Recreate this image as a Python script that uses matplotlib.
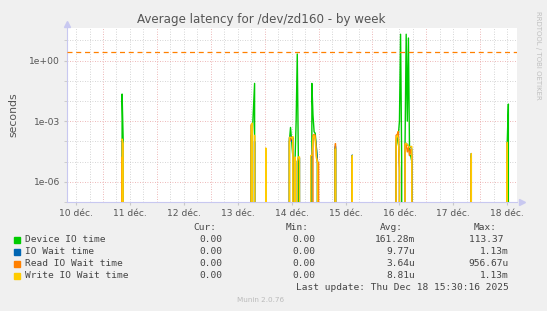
import numpy as np
import matplotlib
matplotlib.use("Agg")
import matplotlib.pyplot as plt
from matplotlib.ticker import FixedLocator, NullFormatter

# Données : demi-heures depuis le 10 déc. 00:00, seules les pointes non nulles
slots = [65, 66, 180, 181, 182, 183, 193, 214, 215, 216, 217, 219, 220, 221, 222, 223,
         233, 234, 235, 236, 237, 238, 239, 240, 255, 270, 309, 310, 311, 312, 313, 314,
         317, 318, 319, 320, 321, 322, 323, 376, 408, 409]
device_io = [2.2e-2, 1.0e-4, 2e-4, 2.6e-4, 5e-3, 7.4e-2, 4e-5, 1e-4, 4.9e-4, 1e-4, 2e-5, 1e-5, 1e-3, 2.1, 1e-5, 0,
             0, 7.4e-2, 2e-3, 3e-4, 2.5e-4, 5e-5, 1e-5, 0, 5e-5, 2e-5, 5e-5, 1e-4, 2e-4, 1e-3, 20, 1e-5,
             1e-4, 20, 1e-3, 13, 2e-5, 2e-5, 1e-5, 2e-5, 9.6e-5, 7e-3]
io_wait = [1.2e-4, 7e-5, 6e-4, 7e-4, 0, 1e-4, 4e-5, 1.5e-4, 1.8e-4, 1e-4, 1.5e-4, 1.5e-5, 0, 1e-5, 1.5e-5, 1.5e-5,
           1.5e-5, 2e-5, 1.5e-4, 2e-4, 1.5e-4, 5e-5, 1e-5, 0, 6e-5, 2.1e-5, 1e-4, 2e-4, 2.5e-4, 5e-6, 0, 0,
           8e-5, 8e-5, 7e-5, 6e-5, 5e-5, 5.6e-5, 4e-5, 2.5e-5, 9e-5, 0]
read_wait = [1.7e-5, 0, 7e-4, 7e-4, 0, 0, 3e-5, 1e-4, 1.2e-4, 1.5e-4, 1.7e-4, 1e-5, 0, 0, 0, 0,
             0, 0, 2e-4, 2.2e-4, 2e-4, 2e-5, 9e-6, 9e-6, 7.8e-5, 1.5e-5, 2e-4, 2.2e-4, 3.1e-4, 3e-6, 0, 0,
             7e-5, 7e-5, 3e-5, 5e-5, 2e-5, 4e-5, 2e-5, 1.5e-5, 1e-5, 0]
write_wait = [1.3e-4, 8e-5, 6e-4, 8e-4, 0, 2e-4, 4.7e-5, 1.6e-4, 1.6e-4, 1.5e-4, 1.7e-4, 1.7e-5, 0, 1e-5, 1.7e-5, 1.7e-5,
              2e-5, 2e-5, 1.5e-4, 2e-4, 1.2e-4, 1.5e-5, 1e-5, 0, 4.2e-5, 2e-5, 1.5e-4, 2e-4, 1.5e-4, 1e-5, 0, 0,
              8e-5, 8e-5, 7e-5, 6e-5, 5e-5, 5.6e-5, 5.6e-5, 2.5e-5, 9e-5, 0]

day_labels = ["10 déc.", "11 déc.", "12 déc.", "13 déc.", "14 déc.", "15 déc.", "16 déc.", "17 déc.", "18 déc."]
warn_level = 2.7

names = ["Device IO time", "IO Wait time", "Read IO Wait time", "Write IO Wait time"]
colors = ["#00CC00", "#0066B3", "#FF8000", "#FFCC00"]
cur = ["0.00", "0.00", "0.00", "0.00"]
mins = ["0.00", "0.00", "0.00", "0.00"]
avgs = ["161.28m", "9.77u", "3.64u", "8.81u"]
maxs = ["113.37 ", "1.13m", "956.67u", "1.13m"]

W, H = 547, 311


def px(x, y):
    return x / W, 1 - y / H


# séries complètes (zéro hors des pointes)
t = np.arange(16, 417)
days = t / 48.0
series = []
for vals in [device_io, io_wait, read_wait, write_wait]:
    full = np.zeros(len(t))
    full[np.array(slots) - 16] = vals
    series.append(full)

fig = plt.figure(figsize=(W / 100, H / 100), dpi=100, facecolor="#F0F0F0")
ax = fig.add_axes([67 / W, 1 - 202 / H, 450 / W, 174 / H])
ax.set_facecolor("white")

for s, c in zip(series, colors):
    ax.plot(days, s, color=c, lw=1.0, zorder=3)

ax.axhline(warn_level, color="#FF8000", lw=0.9, dashes=(4, 3), zorder=4)

ax.set_yscale("log", nonpositive="clip")
ax.set_ylim(1e-7, 10 ** 1.61)
ax.set_xlim(0.332, 8.681)

# grille
for d in np.arange(0.5, 8.75, 0.25):
    if abs(d - round(d)) < 1e-9:
        ax.axvline(d, color="#E8A0A0", lw=0.6, ls=(0, (1, 2)), zorder=1)
    else:
        ax.axvline(d, color="#C8C8C8", lw=0.6, ls=(0, (1, 2)), zorder=1)
for e in range(-7, 2):
    col = "#E8A0A0" if e in (0, -3, -6) else "#C8C8C8"
    ax.axhline(10.0 ** e, color=col, lw=0.6, ls=(0, (1, 2)), zorder=1)

ax.yaxis.set_major_locator(FixedLocator([1e0, 1e-3, 1e-6]))
ax.yaxis.set_minor_locator(FixedLocator([10.0 ** e for e in range(-7, 2)]))
ax.yaxis.set_minor_formatter(NullFormatter())
ax.set_yticklabels(["1e+00", "1e-03", "1e-06"])
ax.set_xticks(np.arange(0.5, 9, 1.0))
ax.set_xticklabels(day_labels)
ax.tick_params(axis="both", which="both", labelsize=6.6, labelcolor="#555555",
               length=2, color="#C8C8C8", pad=3)

for side in ["top", "right"]:
    ax.spines[side].set_visible(False)
for side in ["left", "bottom"]:
    ax.spines[side].set_color("#C8C8F0")
    ax.spines[side].set_linewidth(0.8)
ax.plot(1.01, 0, ">", transform=ax.transAxes, clip_on=False, ms=4, color="#C8C8F0")
ax.plot(0, 1.025, "^", transform=ax.transAxes, clip_on=False, ms=4, color="#C8C8F0")

ax.set_ylabel("seconds", fontsize=7.8, color="#555555", labelpad=8)

fig.text(*px(261, 19), "Average latency for /dev/zd160 - by week", ha="center", va="center",
         fontsize=8.6, color="#555555")
fig.text(*px(538, 55), "RRDTOOL / TOBI OETIKER", ha="center", va="center", rotation=270,
         fontsize=5, color="#C0C0C0")

# légende
mono = "DejaVu Sans Mono"
fs = 6.8
hy = 227.7
for x, h in [(216, "Cur:"), (309, "Min:"), (403, "Avg:"), (497, "Max:")]:
    fig.text(*px(x, hy), h, ha="right", va="center", family=mono, fontsize=fs, color="#444444")
for i in range(4):
    y = 240 + i * 11.9
    fig.patches.append(plt.Rectangle(px(13.5, y + 3), 6 / W, 6 / H, transform=fig.transFigure,
                                     color=colors[i]))
    fig.text(*px(25, y), names[i], ha="left", va="center", family=mono, fontsize=fs, color="#444444")
    fig.text(*px(222, y), cur[i], ha="right", va="center", family=mono, fontsize=fs, color="#444444")
    fig.text(*px(315, y), mins[i], ha="right", va="center", family=mono, fontsize=fs, color="#444444")
    fig.text(*px(415, y), avgs[i], ha="right", va="center", family=mono, fontsize=fs, color="#444444")
    fig.text(*px(509, y), maxs[i], ha="right", va="center", family=mono, fontsize=fs, color="#444444")
fig.text(*px(509, 287.7), "Last update: Thu Dec 18 15:30:16 2025", ha="right", va="center",
         family=mono, fontsize=fs, color="#444444")
fig.text(*px(261, 299.5), "Munin 2.0.76", ha="center", va="center", fontsize=5.2, color="#BBBBBB")

fig.savefig("out.png", dpi=100, facecolor=fig.get_facecolor())
